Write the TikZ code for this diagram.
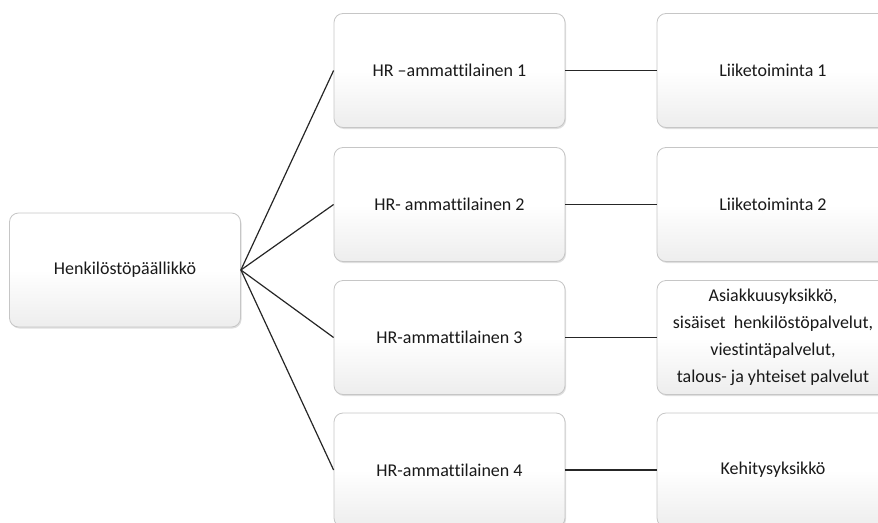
\documentclass[tikz,border=0pt]{standalone}
\usepackage{fontspec}
\setmainfont{Carlito}[Ligatures=NoCommon]
\usetikzlibrary{shadows}
\tikzset{
  box/.style={draw=gray!45, line width=0.8pt, rounded corners=9pt,
    top color=white, bottom color=gray!14, middle color=white,
    shading angle=0,
    minimum width=231pt, minimum height=114pt, inner sep=2pt,
    align=center, text=black!90,
    font=\fontsize{18}{27}\selectfont,
    drop shadow={opacity=0.25, shadow xshift=1pt, shadow yshift=-1.5pt}},
  link/.style={draw=black!85, line width=1.2pt}
}
\begin{document}
\begin{tikzpicture}[x=1pt,y=-1pt]
\useasboundingbox (0,0) rectangle (878,522);
\clip (0,0) rectangle (878,522);
\node[box] (hp) at (125,270) {Henkilöstöpäällikkö};
\node[box] (m1) at (449.5,70.5) {HR –ammattilainen 1};
\node[box] (m2) at (449.5,204.5) {HR- ammattilainen 2};
\node[box] (m3) at (449.5,337.5) {HR-ammattilainen 3};
\node[box] (m4) at (449.5,470) {HR-ammattilainen 4};
\node[box, minimum width=232pt] (r1) at (773,70.5) {Liiketoiminta 1};
\node[box, minimum width=232pt] (r2) at (773,204.5) {Liiketoiminta 2};
\node[box, minimum width=232pt] (r3) at (773,337.5) {Asiakkuusyksikkö,\\sisäiset\ \ henkilöstöpalvelut,\\viestintäpalvelut,\\talous- ja yhteiset palvelut};
\node[box, minimum width=232pt] (r4) at (773,470) {Kehitysyksikkö};
\foreach \m in {m1,m2,m3,m4} \draw[link] (hp.east) -- (\m.west);
\draw[link] (m1.east) -- (r1.west);
\draw[link] (m2.east) -- (r2.west);
\draw[link] (m3.east) -- (r3.west);
\draw[link] (m4.east) -- (r4.west);
\end{tikzpicture}
\end{document}
